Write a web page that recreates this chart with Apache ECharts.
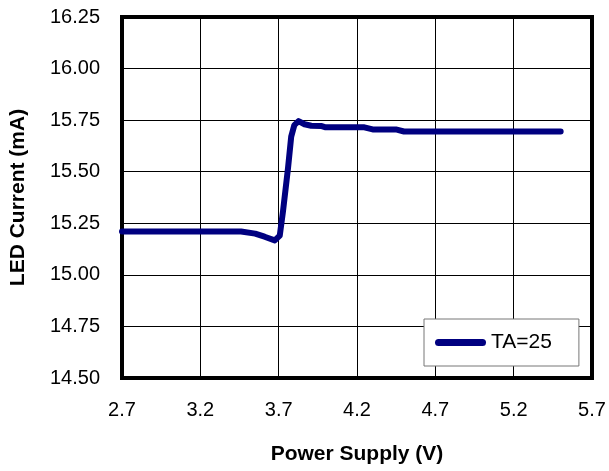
<!DOCTYPE html>
<html>
<head>
<meta charset="utf-8">
<script src="https://cdn.jsdelivr.net/npm/echarts@6/dist/echarts.min.js"></script>
<style>
html,body{margin:0;padding:0;background:#fff;}
#chart{width:609px;height:471px;}
</style>
</head>
<body>
<div id="chart"></div>
<script>
// Data
const supplyVoltage = [2.7, 3.0, 3.3, 3.46, 3.55, 3.61, 3.675, 3.707, 3.728, 3.76, 3.78, 3.80, 3.827, 3.865, 3.908, 3.97, 4.0, 4.247, 4.30, 4.448, 4.50, 5.0, 5.5];
const ledCurrent    = [15.21, 15.21, 15.21, 15.21, 15.20, 15.185, 15.167, 15.19, 15.31, 15.52, 15.67, 15.726, 15.745, 15.73, 15.723, 15.722, 15.715, 15.715, 15.705, 15.705, 15.695, 15.695, 15.695];
const seriesName = 'TA=25';
const xTicks = [2.7, 3.2, 3.7, 4.2, 4.7, 5.2, 5.7];
const yTicks = [14.50, 14.75, 15.00, 15.25, 15.50, 15.75, 16.00, 16.25];

const chart = echarts.init(document.getElementById('chart'), null, {renderer: 'canvas'});
const font = 'Arial, "Liberation Sans", sans-serif';
chart.setOption({
  animation: false,
  backgroundColor: '#fff',
  grid: {
    left: 120, top: 17, right: 17, bottom: 93,
    show: true, borderColor: '#000', borderWidth: 4, backgroundColor: 'transparent'
  },
  xAxis: {
    type: 'value',
    min: xTicks[0], max: xTicks[xTicks.length - 1], interval: 0.5,
    name: 'Power Supply (V)', nameLocation: 'middle', nameGap: 66,
    nameTextStyle: {fontFamily: font, fontSize: 21, fontWeight: 'bold', color: '#000'},
    axisLine: {show: false}, axisTick: {show: false},
    axisLabel: {margin: 22, fontFamily: font, fontSize: 20, color: '#000',
      formatter: v => v.toFixed(1)},
    splitLine: {show: true, lineStyle: {color: '#000', width: 1}}
  },
  yAxis: {
    type: 'value',
    min: yTicks[0], max: yTicks[yTicks.length - 1], interval: 0.25,
    name: 'LED Current (mA)', nameLocation: 'middle', nameGap: 93,
    nameTextStyle: {fontFamily: font, fontSize: 21, fontWeight: 'bold', color: '#000'},
    axisLine: {show: false}, axisTick: {show: false},
    axisLabel: {margin: 22, fontFamily: font, fontSize: 20, color: '#000',
      formatter: v => v.toFixed(2)},
    splitLine: {show: true, lineStyle: {color: '#000', width: 1}}
  },
  legend: {
    data: [seriesName],
    left: 424, top: 319,
    orient: 'horizontal',
    backgroundColor: '#fff', borderColor: '#777', borderWidth: 1,
    padding: [13, 27, 13, 11],
    itemWidth: 51, itemHeight: 7,
    icon: 'path://M3.5,0 L47.5,0 A3.5,3.5 0 0 1 47.5,7 L3.5,7 A3.5,3.5 0 0 1 3.5,0 Z',
    textStyle: {fontFamily: font, fontSize: 21, color: '#000'}
  },
  series: [{
    name: seriesName,
    type: 'line',
    data: supplyVoltage.map((v, i) => [v, ledCurrent[i]]),
    showSymbol: false, symbol: 'none',
    smooth: false,
    lineStyle: {color: '#000080', width: 6, cap: 'round', join: 'round'},
    itemStyle: {color: '#000080'},
    z: 3
  }]
});
</script>
</body>
</html>
